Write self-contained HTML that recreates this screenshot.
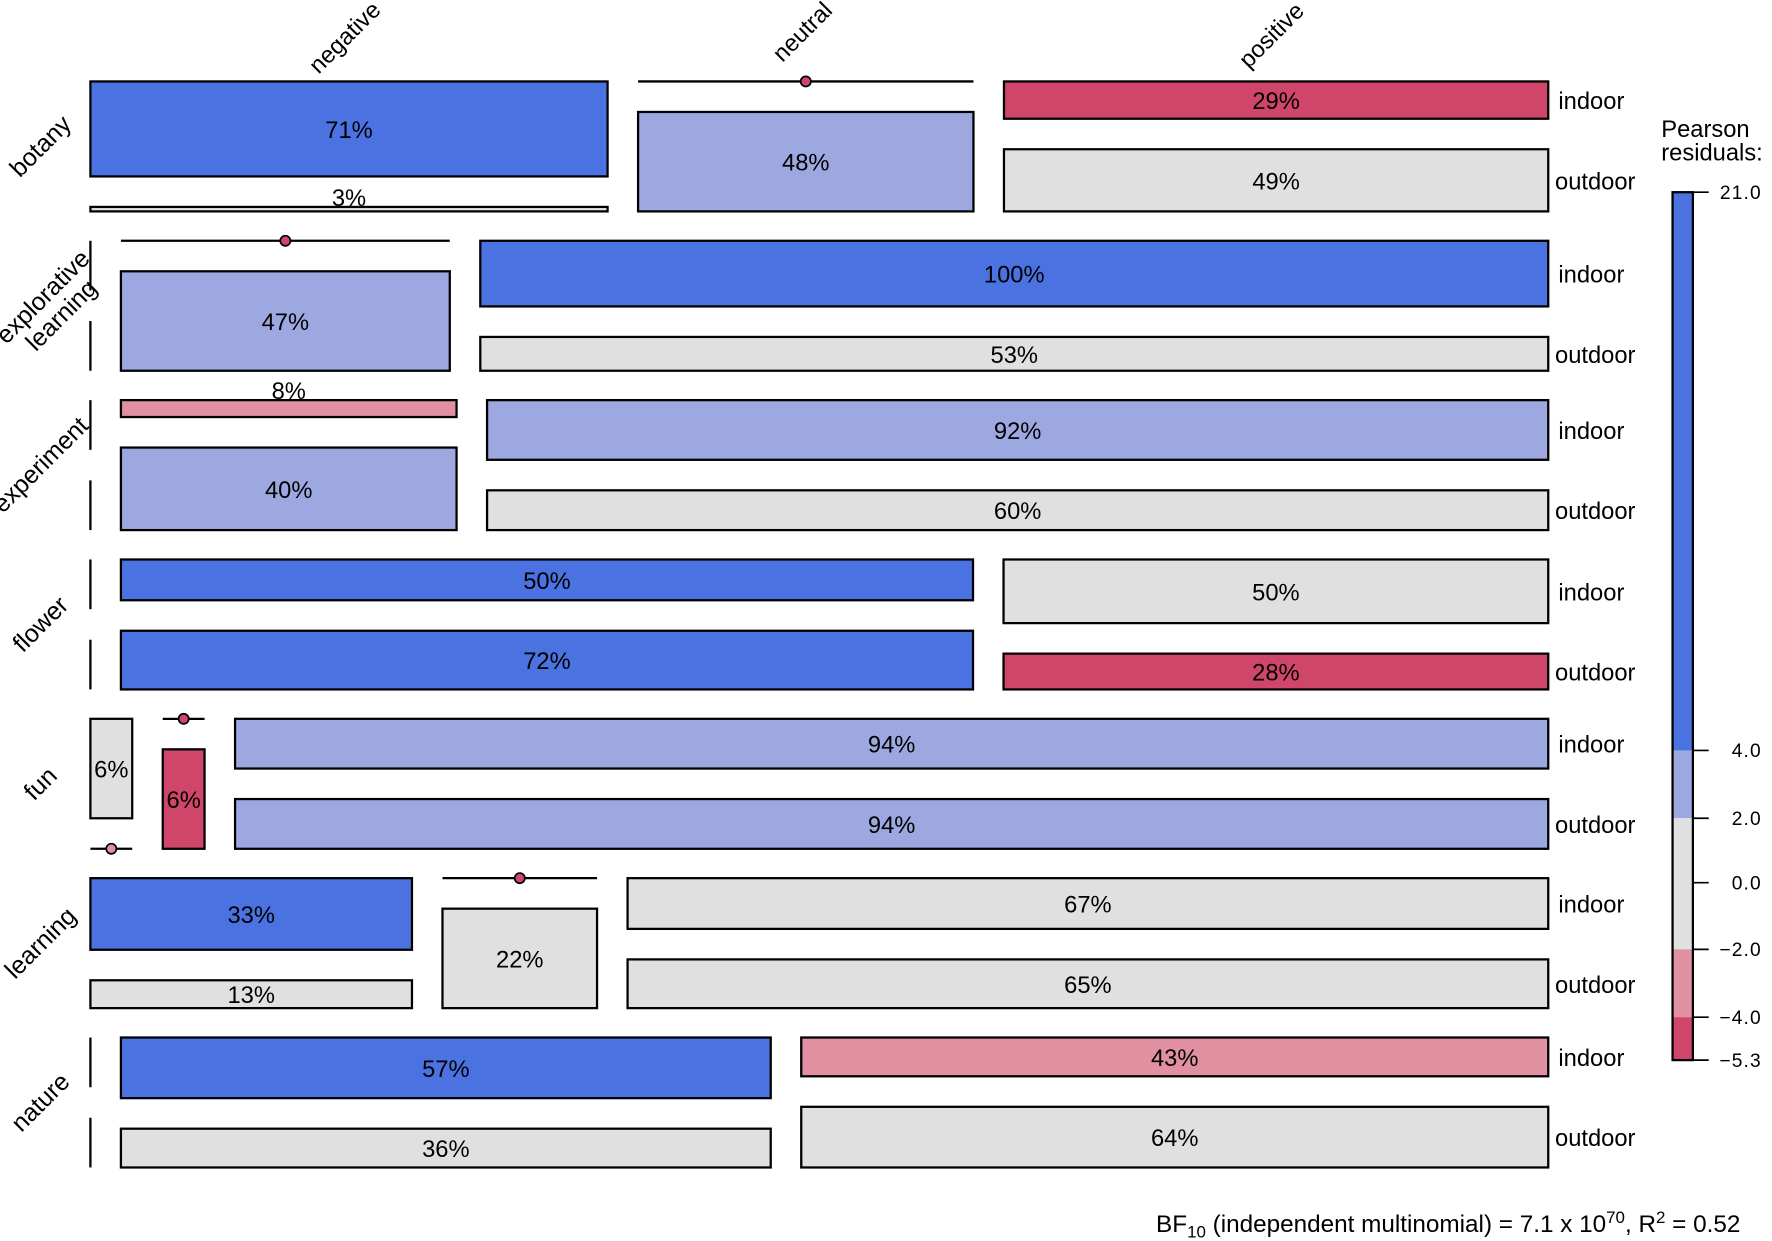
<!DOCTYPE html>
<html><head><meta charset="utf-8"><style>
html,body{margin:0;padding:0;background:#fff;}
svg{display:block;}
text{font-family:"Liberation Sans",sans-serif;}
</style></head><body>
<svg id="chart" width="1772" height="1241" viewBox="0 0 1568 1098" xmlns="http://www.w3.org/2000/svg">
<g id="plot"></g>
<g id="legend">
<text x="1470" y="121" font-size="21">Pearson</text>
<text x="1470" y="142" font-size="21">residuals:</text>
</g>
<text x="1540" y="1090" font-size="21.5" text-anchor="end">BF<tspan font-size="15" dy="5">10</tspan><tspan dy="-5"> (independent multinomial) = 7.1 x 10</tspan><tspan font-size="15" dy="-8">70</tspan><tspan dy="8">, R</tspan><tspan font-size="15" dy="-8">2</tspan><tspan dy="8"> = 0.52</tspan></text>
</svg>
<script>
const rowNames = ["botany","explorative learning","experiment","flower","fun","learning","nature"];
const colNames = ["negative","neutral","positive"];
const subNames = ["indoor","outdoor"];
// column widths (relative counts) per row: negative, neutral, positive
const colShare = [
 [458,297,482],[0,291,945],[0,297,939],[0,754,482],[37,37,1162],[285,137,816],[0,575,661]];
// indoor share of height within each cell
const indoorShare = [
 [0.955,0,0.375],[0.5,0,0.66],[0.5,0.17,0.6],[0.5,0.41,0.64],[1,0,0.5],[0.72,0,0.51],[0.5,0.61,0.39]];
// pearson residuals [indoor, outdoor] per cell
const resid = [
 [[6,0],[0,3],[-5,0]],
 [[0,0],[0,3],[6,0]],
 [[0,0],[-3,3],[3,0]],
 [[0,0],[6,6],[0,-5]],
 [[0,-3],[-5,-5],[3,3]],
 [[6,0],[0,0],[0,0]],
 [[0,0],[6,0],[-3,0]]];
// printed percentage labels [indoor, outdoor]
const pctLabels = [
 [["71%","3%"],["","48%"],["29%","49%"]],
 [["",""],["","47%"],["100%","53%"]],
 [["",""],["8%","40%"],["92%","60%"]],
 [["",""],["50%","72%"],["50%","28%"]],
 [["6%",""],["","6%"],["94%","94%"]],
 [["33%","13%"],["","22%"],["67%","65%"]],
 [["",""],["57%","36%"],["43%","64%"]]];
const legendTicks = [21.0,4.0,2.0,0.0,-2.0,-4.0,-5.3];
const legendTickLabels = ["21.0","4.0","2.0","0.0","\u22122.0","\u22124.0","\u22125.3"];

const NS="http://www.w3.org/2000/svg";
const X0=80,X1=1370,GAP=27,Y0=72,ROWH=115,ROWGAP=26,VGAP=27;
function color(r){ if(r>=4) return "#4a72e0"; if(r>=2) return "#9ea8e0"; if(r>-2) return "#e0e0e0"; if(r>-4) return "#e090a0"; return "#d0456a"; }
function mk(tag,attrs,parent){const e=document.createElementNS(NS,tag);for(const k in attrs)e.setAttribute(k,attrs[k]);parent.appendChild(e);return e;}
function rowTop(i){return Y0+i*(ROWH+ROWGAP);}
function xScale(i,j){const tot=colShare[i].reduce((a,b)=>a+b,0);const usable=(X1-X0)-GAP*(colShare[i].length-1);let x=X0;for(let k=0;k<j;k++)x+=colShare[i][k]/tot*usable+GAP;return [x,colShare[i][j]/tot*usable];}
function yScale(i,f){const t=rowTop(i);const av=ROWH-VGAP;const hIn=f*av;return {inTop:t,inH:hIn,outTop:t+hIn+VGAP,outH:av-hIn};}
const plot=document.getElementById('plot');
rowNames.forEach((rn,i)=>{
  const g=mk('g',{},plot);
  
  
  const cy=rowTop(i)+ROWH/2;
  const lines=rn.split(' ');
  const lx=lines.length===1?36:46;
  const lab=mk('text',{x:lx,y:cy,'font-size':22,'text-anchor':'middle',transform:`rotate(-45 ${lx} ${cy})`},g);
  
  
  if(lines.length===1){lab.setAttribute('dy','7');lab.textContent=rn;}
  else{lines.forEach((l,k)=>{const ts=mk('tspan',{x:lx,dy:k===0?-4:23},lab);ts.textContent=l;});}
  colNames.forEach((cn,j)=>{
    const [x,w]=xScale(i,j);
    const ys=yScale(i,indoorShare[i][j]);
    const parts=[[ys.inTop,ys.inH],[ys.outTop,ys.outH]];
    if(w<0.5){
      parts.forEach((p,k)=>{const l=mk('line',{x1:x,x2:x,y1:p[0],y2:p[0]+p[1],stroke:'#000','stroke-width':2},g);
        
        });
      return;
    }
    parts.forEach((p,k)=>{
      const r=resid[i][j][k];
      if(p[1]<0.5){
        const l=mk('line',{x1:x,x2:x+w,y1:p[0],y2:p[0],stroke:'#000','stroke-width':2},g);
        
        
        const d=mk('circle',{cx:x+w/2,cy:p[0],r:4.5,fill:color(r<0?r:-5),stroke:'#000','stroke-width':1.5},g);
        
        
        return;
      }
      const rc=mk('rect',{x:x,y:p[0],width:w,height:p[1],fill:color(r),stroke:'#000','stroke-width':2},g);
      
      
      const txt=pctLabels[i][j][k];
      if(txt){
        const ty=p[1]<18?p[0]-1:p[0]+p[1]/2+8;
        const t=mk('text',{x:x+w/2,y:ty,'font-size':21,'text-anchor':'middle'},g);
        
        
        t.textContent=txt;
      }
    });
  });
  const ys=yScale(i,indoorShare[i][2]);
  [[ys.inTop+ys.inH/2,'indoor',1379],[ys.outTop+ys.outH/2,'outdoor',1376]].forEach(s=>{
    const t=mk('text',{x:s[2],y:s[0]+8,'font-size':21},g);
    
    
    t.textContent=s[1];
  });
});
[[310,38],[715,33],[1130,36]].forEach((p,j)=>{
  const t=mk('text',{x:p[0],y:p[1],'font-size':21,'text-anchor':'middle',transform:`rotate(-45 ${p[0]} ${p[1]})`},plot);
  
  
  t.textContent=colNames[j];
});
const legend=document.getElementById('legend');
const legY=[170,664,724,781,840,900,938];
function ly(v){for(let k=0;k<legendTicks.length-1;k++){const a=legendTicks[k],b=legendTicks[k+1];if(v<=a&&v>=b)return legY[k]+(a-v)/(a-b)*(legY[k+1]-legY[k]);}return v>0?legY[0]:legY[6];}
const bands=[[21,4,6],[4,2,3],[2,-2,0],[-2,-4,-3],[-4,-5.3,-5]];
bands.forEach(b=>{const r=mk('rect',{x:1480,y:ly(b[0]),width:18,height:ly(b[1])-ly(b[0]),fill:color(b[2])},legend);
  
  });
const fr=mk('rect',{x:1480,y:ly(21),width:18,height:ly(-5.3)-ly(21),fill:'none',stroke:'#000','stroke-width':2},legend);


legendTicks.forEach((v,k)=>{
  const y=ly(v);
  const l=mk('line',{x1:1498,x2:1512,y1:y,y2:y,stroke:'#000','stroke-width':1.5},legend);
  
  
  const t=mk('text',{x:1559,y:y+6,'font-size':17,'text-anchor':'end','letter-spacing':'1'},legend);
  
  
  t.textContent=legendTickLabels[k];
});
</script>
</body></html>
